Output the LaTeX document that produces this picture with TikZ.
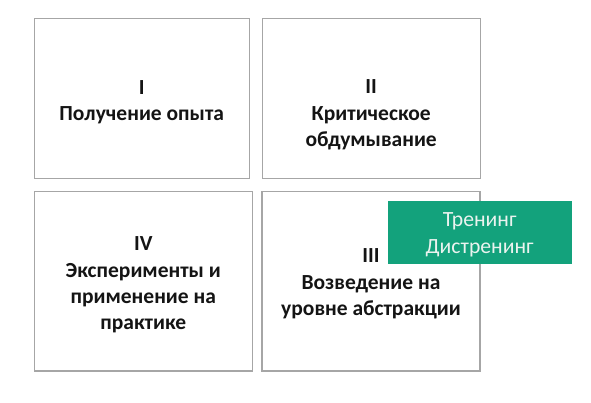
\documentclass[tikz,border=0pt]{standalone}
\usepackage{fontspec}
\setmainfont{Carlito}
\definecolor{boxline}{HTML}{A6A6A6}
\definecolor{txt}{HTML}{141414}
\definecolor{grn}{HTML}{13A27C}
\definecolor{grntxt}{HTML}{EAF3EF}
\tikzset{
  box/.style={draw=boxline, line width=1.1pt, fill=white, inner sep=0pt},
  lbl/.style={text=txt, font=\fontsize{21.5}{26.3}\selectfont\bfseries, align=center, inner sep=0pt},
  gbox/.style={fill=grn, draw=none, inner sep=0pt},
  glbl/.style={text=grntxt, font=\fontsize{21.7}{26.7}\selectfont, align=center, inner sep=0pt}
}
\begin{document}
\begin{tikzpicture}[x=1pt,y=-1pt]
\useasboundingbox[fill=white] (0,0) rectangle (591,402);
\node[box, minimum width=215.3pt, minimum height=160pt] (b1) at (141.7,98.3) {};
\node[box, minimum width=217.7pt, minimum height=160pt] (b2) at (371.2,98.3) {};
\node[box, minimum width=218pt, minimum height=179.3pt] (b4) at (143.3,281.3) {};
\node[box, minimum width=218pt, minimum height=179.3pt] (b3) at (371,281.3) {};
\node[lbl] (t1) at (141.7,102) {I\\Получение опыта};
\node[lbl] (t2) at (371.2,115) {II\\Критическое\\обдумывание};
\node[lbl] (t4) at (143.3,285) {IV\\Эксперименты и\\применение на\\практике};
\node[lbl] (t3) at (371,284) {III\\Возведение на\\уровне абстракции};
\node[gbox, minimum width=184pt, minimum height=63.3pt] (g) at (479.7,232.3) {};
\node[glbl] (gt) at (479.7,235) {Тренинг\\Дистренинг};
\end{tikzpicture}
\end{document}
